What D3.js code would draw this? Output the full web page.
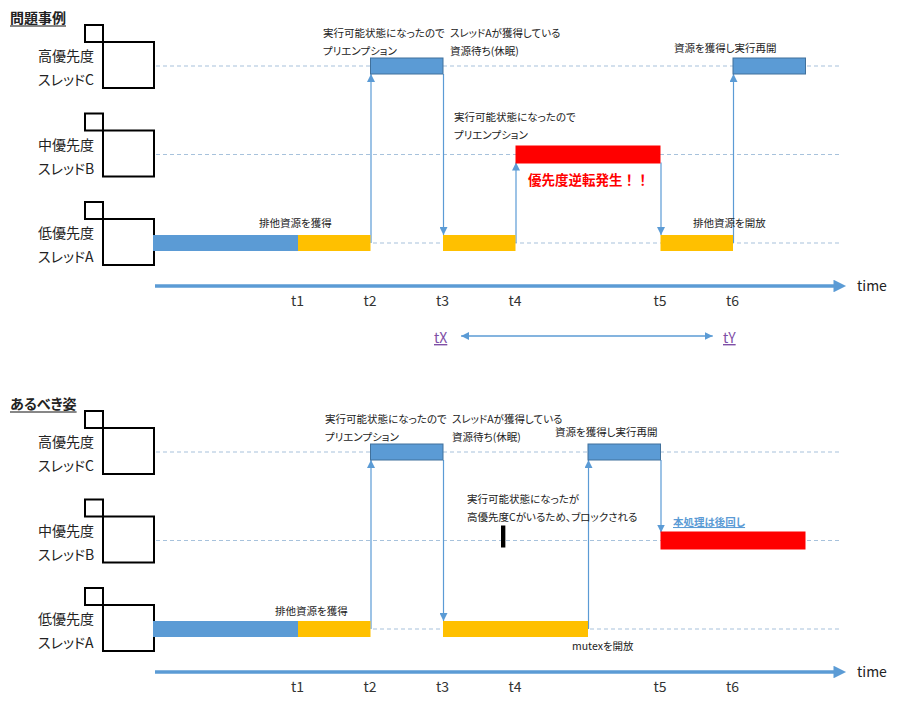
<!DOCTYPE html>
<html>
<head>
  <meta charset="UTF-8">
  <title>Priority inversion</title>
  <script src="https://cdnjs.cloudflare.com/ajax/libs/d3/7.8.5/d3.min.js"></script>
  <style>
    body { margin: 0; background: #fff; }
    text { font-family: "Noto Sans CJK JP", "Noto Sans", sans-serif; font-feature-settings: "palt"; fill: #222; }
    .note { font-size: 10.5px; }
    .rowlabel { font-size: 14px; }
    .tick text { font-size: 14px; fill: #333; }
  </style>
</head>
<body>
<div id="chart"></div>
<script>
  // Time points (in slot units) and their labels
  const timeLabels = ["t1", "t2", "t3", "t4", "t5", "t6"];
  const timeValues = [2, 3, 4, 5, 7, 8];

  // Threads, top to bottom
  const threads = ["C", "B", "A"];
  const threadPriority = ["高優先度", "中優先度", "低優先度"];
  const threadNames = ["スレッドC", "スレッドB", "スレッドA"];

  const panelTitles = ["問題事例", "あるべき姿"];

  // Execution segments: [thread, start, end, kind]
  const problemSegments = [
    ["A", 0, 2, "run"], ["A", 2, 3, "lock"], ["C", 3, 4, "run"],
    ["A", 4, 5, "lock"], ["B", 5, 7, "inv"], ["A", 7, 8, "lock"], ["C", 8, 9, "run"]
  ];
  const idealSegments = [
    ["A", 0, 2, "run"], ["A", 2, 3, "lock"], ["C", 3, 4, "run"],
    ["A", 4, 6, "lock"], ["B", 4.8, 4.86, "block"], ["C", 6, 7, "run"], ["B", 7, 9, "inv"]
  ];

  // Context switches: [time, from, to]
  const problemSwitches = [[3, "A", "C"], [4, "C", "A"], [5, "A", "B"], [7, "B", "A"], [8, "A", "C"]];
  const idealSwitches = [[3, "A", "C"], [4, "C", "A"], [6, "A", "C"], [7, "C", "B"]];

  // Annotation texts
  const problemNotes = [
    ["実行可能状態になったので", "プリエンプション"],
    ["スレッドAが獲得している", "資源待ち(休眠)"],
    ["実行可能状態になったので", "プリエンプション"],
    ["資源を獲得し実行再開"],
    ["排他資源を獲得"],
    ["排他資源を開放"]
  ];
  const problemAlert = "優先度逆転発生！！";
  const idealNotes = [
    ["実行可能状態になったので", "プリエンプション"],
    ["スレッドAが獲得している", "資源待ち(休眠)"],
    ["資源を獲得し実行再開"],
    ["実行可能状態になったが", "高優先度Cがいるため、ブロックされる"],
    ["排他資源を獲得"],
    ["mutexを開放"]
  ];
  const idealLink = "本処理は後回し";
  const spanLabels = ["tX", "tY"];
  const spanTimes = [4.25, 7.72];

  const W = 917, H = 701;
  const blue = "#5b9bd5", orange = "#ffc000", red = "#ff0000";
  const fills = { run: blue, lock: orange, inv: red, block: "#000" };

  const svg = d3.select("#chart").append("svg")
    .attr("width", W).attr("height", H);

  const defs = svg.append("defs");
  defs.append("marker").attr("id", "head")
    .attr("viewBox", "0 0 10 10").attr("refX", 10).attr("refY", 5)
    .attr("markerWidth", 8).attr("markerHeight", 8).attr("markerUnits", "userSpaceOnUse")
    .attr("orient", "auto-start-reverse")
    .append("path").attr("d", "M0,0L10,5L0,10Z").attr("fill", blue);
  defs.append("marker").attr("id", "bighead")
    .attr("viewBox", "0 0 10 10").attr("refX", 2).attr("refY", 5)
    .attr("markerWidth", 4).attr("markerHeight", 3.6)
    .attr("orient", "auto")
    .append("path").attr("d", "M0,0L10,5L0,10Z").attr("fill", blue);

  const x = d3.scaleLinear().domain([0, 9]).range([153, 805.5]);

  function panel(offset, title, segments, switches) {
    const g = svg.append("g").attr("transform", `translate(0,${offset})`);
    const y = d3.scalePoint().domain(threads).range([66, 243]);

    // title
    const tt = g.append("text").attr("x", 10).attr("y", 23)
      .attr("font-size", 14).attr("font-weight", "bold").attr("fill", "#111")
      .text(title);
    const tw = tt.node().getComputedTextLength();
    g.append("line").attr("x1", 10).attr("x2", 10 + tw).attr("y1", 26).attr("y2", 26)
      .attr("stroke", "#111").attr("stroke-width", 1.2);

    // thread rows
    const rows = g.selectAll(".row").data(threads).join("g").attr("class", "row");
    rows.append("line")
      .attr("x1", 156).attr("x2", 840)
      .attr("y1", d => y(d)).attr("y2", d => y(d))
      .attr("stroke", "#a7c2dc").attr("stroke-width", 1.2).attr("stroke-dasharray", "4,3");
    rows.append("rect").attr("x", 103).attr("y", d => y(d) - 24).attr("width", 51).attr("height", 46)
      .attr("fill", "#fff").attr("stroke", "#000").attr("stroke-width", 2);
    rows.append("rect").attr("x", 85).attr("y", d => y(d) - 41).attr("width", 18).attr("height", 17)
      .attr("fill", "none").attr("stroke", "#000").attr("stroke-width", 2);
    rows.append("text").attr("class", "rowlabel").attr("x", 38).attr("y", d => y(d) - 5)
      .text((d, i) => threadPriority[i]);
    rows.append("text").attr("class", "rowlabel").attr("x", 38).attr("y", d => y(d) + 19)
      .text((d, i) => threadNames[i]);

    // switches (arrows)
    g.selectAll(".sw").data(switches).join("line").attr("class", "sw")
      .attr("x1", d => x(d[0]) + 0.5).attr("x2", d => x(d[0]) + 0.5)
      .attr("y1", d => y(d[1]) + (y(d[2]) < y(d[1]) ? 0 : 8))
      .attr("y2", d => y(d[2]) + (y(d[2]) < y(d[1]) ? 8 : -8))
      .attr("stroke", blue).attr("stroke-width", 1.2)
      .attr("marker-end", "url(#head)");

    // segments
    g.selectAll(".seg").data(segments).join("rect").attr("class", "seg")
      .attr("x", d => x(d[1]))
      .attr("width", d => Math.max(4, x(d[2]) - x(d[1])))
      .attr("y", d => y(d[0]) - (d[3] === "inv" ? 9 : d[3] === "block" ? 15 : 8))
      .attr("height", d => d[3] === "inv" ? 18 : d[3] === "block" ? 22 : 16)
      .attr("fill", d => fills[d[3]])
      .attr("stroke", d => d[3] === "run" && d[0] === "C" ? "#41719c" : "none")
      .attr("stroke-width", 1);

    // time axis
    const ay = 286;
    g.append("line").attr("x1", 155).attr("x2", 836).attr("y1", ay).attr("y2", ay)
      .attr("stroke", blue).attr("stroke-width", 3.5).attr("marker-end", "url(#bighead)");
    g.append("text").attr("x", 857).attr("y", ay + 5).attr("font-size", 14).attr("fill", "#222").text("time");
    const axis = d3.axisBottom(x).tickValues(timeValues).tickSize(0).tickPadding(10)
      .tickFormat((d, i) => timeLabels[i]);
    const ag = g.append("g").attr("transform", `translate(-1,${ay})`).call(axis);
    ag.select(".domain").remove();
    ag.selectAll("text").attr("font-family", null).attr("font-size", null);

    return { g, y };
  }

  function note(g, lines, px, py, cls) {
    const t = g.append("text").attr("class", cls || "note");
    lines.forEach((s, i) => {
      t.append("tspan").attr("x", px).attr("y", py + i * 18).text(s);
    });
    return t;
  }

  // Problem panel
  const p1 = panel(0, panelTitles[0], problemSegments, problemSwitches);
  note(p1.g, problemNotes[0], 323, 37);
  note(p1.g, problemNotes[1], 450, 37);
  note(p1.g, problemNotes[2], 454, 121);
  note(p1.g, problemNotes[3], 674, 52);
  note(p1.g, problemNotes[4], 259, 227);
  note(p1.g, problemNotes[5], 693, 227);
  p1.g.append("text").attr("x", 528).attr("y", 185).attr("font-size", 13.5)
    .attr("font-weight", "bold").style("fill", red).style("font-feature-settings", "normal")
    .text(problemAlert);

  // tX - tY span
  const sy = 336;
  p1.g.append("line").attr("x1", x(spanTimes[0])).attr("x2", x(spanTimes[1]))
    .attr("y1", sy).attr("y2", sy).attr("stroke", blue).attr("stroke-width", 1.3)
    .attr("marker-start", "url(#head)").attr("marker-end", "url(#head)");
  [[434, spanLabels[0]], [723, spanLabels[1]]].forEach(([px, s]) => {
    p1.g.append("text").attr("x", px).attr("y", sy + 7).attr("font-size", 14)
      .style("fill", "#7e4fa6").attr("text-decoration", "underline").text(s);
  });

  // Ideal panel
  const p2 = panel(386, panelTitles[1], idealSegments, idealSwitches);
  note(p2.g, idealNotes[0], 325, 37);
  note(p2.g, idealNotes[1], 452, 37);
  note(p2.g, idealNotes[2], 555, 50);
  note(p2.g, idealNotes[3], 467, 117);
  note(p2.g, idealNotes[4], 275, 229);
  note(p2.g, idealNotes[5], 572, 264);
  p2.g.append("text").attr("x", 673).attr("y", 140).attr("font-size", 10.5)
    .attr("font-weight", "bold").style("fill", blue).attr("text-decoration", "underline")
    .text(idealLink);
</script>
</body>
</html>
